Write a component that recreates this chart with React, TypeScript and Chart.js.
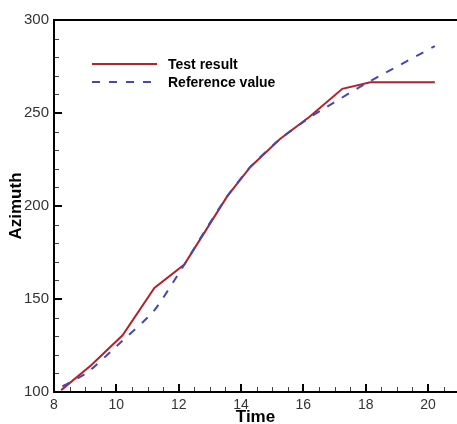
import React, { useEffect, useRef } from "react";
import { Chart, registerables } from "chart.js";

Chart.register(...registerables);

const TEST_X = [8.23, 9.2, 10.2, 11.22, 12.18, 12.8, 13.55, 14.3, 15.25, 16.2, 17.25, 18.15, 20.22];
const TEST_Y = [101, 114.5, 130.5, 156, 168.5, 185, 205, 221, 236, 248, 263, 266.5, 266.5];

const REF_X = [8.27, 9.07, 10.03, 11.2, 12.2, 12.8, 13.55, 14.3, 15.25, 16.2, 16.75, 17.92, 20.22];
const REF_Y = [103, 110.5, 125, 143.5, 169, 185.5, 205, 221, 236, 247.5, 253.3, 265, 286];

const X_MAJOR = [8, 10, 12, 14, 16, 18, 20];
const Y_MAJOR = [100, 150, 200, 250, 300];
const X_MINOR_STEP = 0.5;
const Y_MINOR_STEP = 10;

const SERIES_NAMES = ["Test result", "Reference value"];
const RED = "#b3222a";
const BLUE = "#4547b4";
const FONT = "'Liberation Sans', Arial, sans-serif";

const framePlugin = {
  id: "frame",
  afterDraw(chart: any) {
    const { ctx, chartArea } = chart;
    const xs = chart.scales.x;
    const ys = chart.scales.y;
    const { left, right, top, bottom } = chartArea;
    ctx.save();
    ctx.strokeStyle = "#444";
    ctx.lineWidth = 1;
    for (let v = xs.min; v <= xs.max + 1e-9; v += X_MINOR_STEP) {
      if (X_MAJOR.some((m) => Math.abs(m - v) < 1e-6)) continue;
      const px = Math.round(xs.getPixelForValue(v)) + 0.5;
      ctx.beginPath();
      ctx.moveTo(px, bottom);
      ctx.lineTo(px, bottom - 5);
      ctx.stroke();
    }
    for (let v = ys.min; v <= ys.max + 1e-9; v += Y_MINOR_STEP) {
      if (Y_MAJOR.some((m) => Math.abs(m - v) < 1e-6)) continue;
      const py = Math.round(ys.getPixelForValue(v)) + 0.5;
      ctx.beginPath();
      ctx.moveTo(left, py);
      ctx.lineTo(left + 5, py);
      ctx.stroke();
    }
    ctx.strokeStyle = "#000";
    ctx.lineWidth = 2;
    X_MAJOR.forEach((v) => {
      const px = Math.round(xs.getPixelForValue(v));
      ctx.beginPath();
      ctx.moveTo(px, bottom);
      ctx.lineTo(px, bottom - 8);
      ctx.stroke();
    });
    Y_MAJOR.forEach((v) => {
      const py = Math.round(ys.getPixelForValue(v));
      ctx.beginPath();
      ctx.moveTo(left, py);
      ctx.lineTo(left + 8, py);
      ctx.stroke();
    });
    ctx.beginPath();
    ctx.moveTo(right + 2, top);
    ctx.lineTo(left, top);
    ctx.lineTo(left, bottom);
    ctx.lineTo(right + 2, bottom);
    ctx.stroke();

    const lx0 = 92;
    const lx1 = 157;
    const ly = [64, 82];
    const colors = [RED, BLUE];
    ctx.font = `bold 14px ${FONT}`;
    ctx.textBaseline = "middle";
    ctx.fillStyle = "#000";
    SERIES_NAMES.forEach((name, i) => {
      ctx.strokeStyle = colors[i];
      ctx.lineWidth = 2;
      ctx.setLineDash(i === 1 ? [8, 9] : []);
      ctx.beginPath();
      ctx.moveTo(lx0, ly[i]);
      ctx.lineTo(lx1, ly[i]);
      ctx.stroke();
      ctx.setLineDash([]);
      ctx.fillText(name, 168, ly[i] + 1);
    });
    ctx.restore();
  },
};

export default function App() {
  const ref = useRef<HTMLCanvasElement | null>(null);
  useEffect(() => {
    if (!ref.current) return;
    const chart = new Chart(ref.current, {
      type: "line",
      data: {
        datasets: [
          {
            label: SERIES_NAMES[0],
            data: TEST_X.map((x, i) => ({ x, y: TEST_Y[i] })),
            borderColor: RED,
            borderWidth: 2,
            pointRadius: 0,
            tension: 0,
            fill: false,
            order: 1,
          },
          {
            label: SERIES_NAMES[1],
            data: REF_X.map((x, i) => ({ x, y: REF_Y[i] })),
            borderColor: BLUE,
            borderWidth: 2,
            borderDash: [8, 9],
            pointRadius: 0,
            tension: 0.2,
            fill: false,
            order: 0,
          },
        ],
      },
      options: {
        animation: false,
        responsive: false,
        devicePixelRatio: 1,
        layout: { padding: { top: 20, right: 0, left: 0, bottom: 0 } },
        plugins: { legend: { display: false }, tooltip: { enabled: false } },
        scales: {
          x: {
            type: "linear",
            min: 8,
            max: 20.93,
            grid: { display: false, drawTicks: false },
            border: { display: false },
            afterBuildTicks: (scale: any) => {
              scale.ticks = X_MAJOR.map((v) => ({ value: v }));
            },
            afterFit: (scale: any) => {
              scale.height = 32;
            },
            ticks: {
              padding: 5,
              autoSkip: false,
              maxRotation: 0,
              color: "#333",
              font: { family: FONT, size: 14 },
            },
            title: {
              display: true,
              text: "Time",
              color: "#000",
              font: { family: FONT, size: 17, weight: "bold", lineHeight: 0.8 },
              padding: { top: 0, bottom: 0 },
            },
          },
          y: {
            type: "linear",
            min: 100,
            max: 300,
            grid: { display: false, drawTicks: false },
            border: { display: false },
            afterBuildTicks: (scale: any) => {
              scale.ticks = Y_MAJOR.map((v) => ({ value: v }));
            },
            afterFit: (scale: any) => {
              scale.width = 54;
            },
            ticks: {
              padding: 5,
              color: "#333",
              font: { family: FONT, size: 15 },
            },
            title: {
              display: true,
              text: "Azimuth",
              color: "#000",
              font: { family: FONT, size: 17, weight: "bold", lineHeight: 1 },
              padding: { top: 8, bottom: 0 },
            },
          },
        },
      },
      plugins: [framePlugin],
    });
    return () => chart.destroy();
  }, []);
  return (
    <div style={{ position: "absolute", left: 0, top: 0, width: 457, height: 424, background: "#fff" }}>
      <canvas ref={ref} width={457} height={424} />
    </div>
  );
}
